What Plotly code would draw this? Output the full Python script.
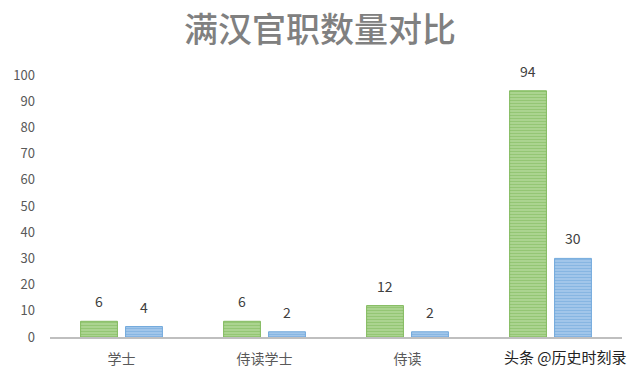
import plotly.graph_objects as go

categories = ["学士", "侍读学士", "侍读", " "]
manchu = [6, 6, 12, 94]
han = [4, 2, 2, 30]

GREEN_FG, GREEN_BG = "#70b046", "#b9dca2"
BLUE_FG, BLUE_BG = "#5b9bd5", "#b3d1ef"

fig = go.Figure()
fig.add_trace(go.Bar(
    x=categories, y=manchu, name="满",
    marker=dict(color=GREEN_BG, line=dict(width=0.8, color=GREEN_FG),
                pattern=dict(shape="-", fgcolor=GREEN_FG, bgcolor=GREEN_BG, size=3, solidity=0.6)),
))
fig.add_trace(go.Bar(
    x=categories, y=han, name="汉",
    marker=dict(color=BLUE_BG, line=dict(width=0.8, color=BLUE_FG),
                pattern=dict(shape="-", fgcolor=BLUE_FG, bgcolor=BLUE_BG, size=3, solidity=0.6)),
))

bargap = 0.371
half = (1 - bargap) / 4
for i, (m, h) in enumerate(zip(manchu, han)):
    fig.add_annotation(x=i - half, y=m, xref="x", yref="y", text=str(m), showarrow=False,
                       yanchor="bottom", yshift=8, font=dict(size=14, color="#404040"))
    fig.add_annotation(x=i + half, y=h, xref="x", yref="y", text=str(h), showarrow=False,
                       yanchor="bottom", yshift=8, font=dict(size=14, color="#404040"))

fig.update_layout(
    width=640, height=379,
    margin=dict(l=50, r=18, t=75, b=42),
    paper_bgcolor="white", plot_bgcolor="white",
    font=dict(family="Noto Sans CJK SC", color="#595959"),
    barmode="group", bargap=bargap, bargroupgap=0.18,
    showlegend=False,
    title=dict(text="满汉官职数量对比", x=0.5, xanchor="center", y=0.921, yanchor="middle",
               font=dict(size=34, color="#808080", family="Noto Sans CJK SC", weight=500)),
    xaxis=dict(showline=True, linecolor="#bfbfbf", linewidth=2, ticks="", showgrid=False,
               tickfont=dict(size=14, color="#595959"), ticklabelstandoff=8),
    yaxis=dict(range=[0, 100], dtick=10, showgrid=False, zeroline=False, showline=False,
               tickfont=dict(size=13, color="#595959"), ticklabelstandoff=14),
)
fig.add_annotation(text="头条 @历史时刻录", x=(565 - 50) / 572, y=-0.075, xref="paper", yref="paper",
                   xanchor="center", yanchor="middle",
                   showarrow=False, font=dict(size=15, color="#222222"))
fig.write_html("out.html")
